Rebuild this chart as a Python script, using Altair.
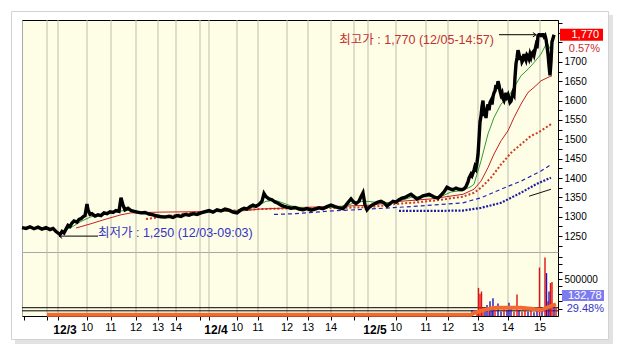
import altair as alt
import pandas as pd

# ---------------- data (x = tick sequence index, 21..557) ----------------
X_MIN, X_MAX = 21, 557
P_MIN, P_MAX = 1209, 1808
V_MAX = 865000

grid_x = [46, 57, 86, 110, 135, 157, 175, 199, 208, 236, 257, 286, 307, 330,
          353, 367, 395, 425, 447, 477, 507, 539]
label_x = [57, 86, 110, 135, 157, 175, 208, 236, 257, 286, 307, 330,
           367, 395, 425, 447, 477, 507, 539]
label_text = ["12/3", "10", "11", "12", "13", "14", "12/4", "10", "11", "12", "13", "14",
              "12/5", "10", "11", "12", "13", "14", "15"]
label_kind = ["day", "h", "h", "h", "h", "h", "day", "h", "h", "h", "h", "h",
              "day", "h", "h", "h", "h", "h", "h"]

price_ticks = [1250, 1300, 1350, 1400, 1450, 1500, 1550, 1600, 1650, 1700]
price_minor = list(range(1225, 1801, 25))
vol_ticks = [100000, 200000, 300000, 400000, 500000, 600000, 700000, 800000]
vol_labels = [500000]

price_pts = [
    (21, 1272), (25, 1270), (29, 1274), (33, 1269), (37, 1273), (41, 1268), (45, 1272),
    (49, 1267), (52, 1270), (55, 1262), (57, 1258), (59, 1254), (61, 1262), (63, 1258),
    (65, 1268), (67, 1278), (69, 1275), (71, 1284), (73, 1289), (76, 1286), (78, 1293),
    (80, 1295), (82, 1300), (84, 1303), (86, 1333), (87, 1318), (89, 1306), (91, 1308),
    (94, 1302), (97, 1305), (100, 1303), (103, 1310), (106, 1308), (109, 1313), (112, 1311),
    (115, 1316), (118, 1314), (120, 1349), (122, 1330), (124, 1318), (127, 1322), (130, 1316),
    (133, 1314), (136, 1312), (140, 1310), (144, 1311), (148, 1307), (152, 1305), (156, 1302),
    (160, 1300), (164, 1299), (168, 1301), (172, 1298), (176, 1303), (180, 1301), (184, 1306),
    (188, 1304), (192, 1308), (196, 1306), (200, 1310), (204, 1313), (208, 1316), (212, 1312),
    (216, 1318), (220, 1315), (224, 1320), (228, 1317), (232, 1312), (236, 1310), (240, 1318),
    (243, 1322), (246, 1320), (249, 1326), (252, 1330), (255, 1327), (258, 1332), (261, 1340),
    (263, 1360), (265, 1352), (268, 1346), (271, 1344), (274, 1338), (277, 1335), (280, 1330),
    (283, 1327), (286, 1325), (290, 1322), (294, 1324), (298, 1320), (302, 1318), (306, 1321),
    (310, 1317), (314, 1320), (318, 1323), (322, 1321), (326, 1326), (330, 1330), (334, 1326),
    (338, 1323), (342, 1321), (345, 1330), (348, 1340), (350, 1346), (352, 1340), (355, 1334),
    (358, 1340), (360, 1352), (362, 1362), (364, 1330), (366, 1318), (368, 1324), (371, 1330),
    (374, 1334), (377, 1338), (380, 1340), (383, 1336), (386, 1328), (389, 1334), (392, 1340),
    (395, 1338), (398, 1344), (401, 1348), (404, 1350), (407, 1354), (410, 1358), (413, 1352),
    (416, 1346), (419, 1350), (422, 1354), (425, 1356), (428, 1358), (431, 1354), (434, 1350),
    (437, 1348), (440, 1356), (443, 1364), (446, 1376), (449, 1372), (452, 1370), (455, 1374),
    (458, 1371), (461, 1370), (463, 1372), (465, 1378), (467, 1390), (468, 1400), (470, 1410),
    (471, 1406), (473, 1420), (474, 1430), (475, 1425), (476, 1440), (477, 1460), (478, 1500),
    (479, 1545), (480, 1560), (481, 1585), (482, 1600), (483, 1560), (484, 1575), (485, 1555),
    (486, 1580), (487, 1590), (488, 1575), (489, 1595), (490, 1600), (491, 1590), (492, 1610),
    (493, 1620), (494, 1625), (495, 1640), (496, 1630), (497, 1650), (498, 1640), (499, 1625),
    (500, 1615), (501, 1620), (502, 1605), (503, 1600), (504, 1610), (505, 1620), (506, 1610),
    (507, 1615), (508, 1605), (509, 1595), (510, 1598), (511, 1610), (512, 1620), (513, 1615),
    (514, 1660), (515, 1695), (516, 1710), (517, 1730), (518, 1720), (519, 1705), (520, 1715),
    (521, 1700), (522, 1705), (523, 1720), (524, 1712), (525, 1705), (526, 1718), (527, 1715),
    (528, 1708), (529, 1720), (530, 1712), (531, 1722), (532, 1725), (533, 1718), (534, 1730),
    (535, 1742), (536, 1735), (537, 1768), (538, 1770), (539, 1770), (540, 1768), (541, 1770),
    (542, 1770), (543, 1765), (544, 1768), (545, 1758), (546, 1740), (547, 1720), (548, 1690),
    (549, 1665), (550, 1700), (551, 1752), (552, 1760), (553, 1770),
]

ma5_pts = [(60, 1262), (70, 1272), (80, 1288), (90, 1300), (100, 1304), (110, 1309), (120, 1315),
           (130, 1318), (140, 1313), (150, 1308), (160, 1303), (175, 1301), (190, 1304),
           (205, 1310), (220, 1315), (240, 1316), (255, 1325), (265, 1340), (275, 1342),
           (290, 1328), (310, 1320), (330, 1324), (345, 1328), (355, 1338), (365, 1340),
           (380, 1336), (395, 1338), (410, 1350), (425, 1352), (440, 1352), (450, 1364),
           (462, 1368), (470, 1378), (473, 1384), (480, 1444), (487, 1514), (493, 1556),
           (500, 1591), (507, 1608), (513, 1634), (520, 1664), (527, 1681), (533, 1698),
           (540, 1720), (546, 1750), (550, 1728)]
ma20_pts = [(75, 1271), (90, 1282), (105, 1294), (120, 1305), (130, 1310), (160, 1312),
            (195, 1313), (240, 1315), (260, 1320), (300, 1324), (340, 1327), (370, 1330),
            (400, 1340), (430, 1346), (462, 1358), (473, 1371), (480, 1392), (487, 1427),
            (493, 1462), (500, 1496), (507, 1522), (513, 1556), (520, 1591), (527, 1621),
            (533, 1634), (540, 1651), (548, 1661), (551, 1664)]
ma60_pts = [(145, 1294), (153, 1297), (195, 1312), (230, 1316), (260, 1320), (300, 1322),
            (340, 1323), (370, 1325), (390, 1332), (420, 1338), (440, 1344), (462, 1352),
            (473, 1362), (480, 1375), (490, 1401), (500, 1435), (510, 1465), (520, 1487),
            (530, 1509), (537, 1517), (550, 1539)]
ma120_pts = [(273, 1306), (295, 1308), (330, 1315), (370, 1320), (420, 1328), (462, 1336),
             (480, 1349), (500, 1371), (520, 1392), (540, 1418), (550, 1435)]
ma240_pts = [(398, 1315), (430, 1315), (462, 1316), (480, 1323), (500, 1336), (520, 1362),
             (535, 1384), (550, 1401)]
ma480_pts = [(528, 1353), (550, 1371)]

vol_bars = [
    (471, 80000, "down"), (476, 60000, "up"), (477.5, 380000, "up"), (479, 300000, "up"),
    (480.5, 330000, "up"), (482, 120000, "up"), (484, 90000, "down"), (486, 150000, "down"),
    (488, 60000, "up"), (489, 200000, "down"), (491, 100000, "down"), (492, 240000, "down"),
    (494, 80000, "up"), (497, 170000, "down"), (500, 60000, "down"), (503, 90000, "up"),
    (506, 70000, "down"), (508, 180000, "down"), (510, 100000, "down"), (513, 60000, "up"),
    (516, 290000, "up"), (518, 80000, "down"), (521, 60000, "up"), (524, 120000, "up"),
    (527, 60000, "down"), (530, 90000, "up"), (533, 50000, "down"), (536, 80000, "down"),
    (538.5, 655000, "up"), (541, 120000, "down"), (544, 790000, "up"), (545.5, 580000, "down"),
    (547, 200000, "up"), (548, 330000, "down"), (549.5, 445000, "up"), (551, 460000, "up"),
    (553, 150000, "down"), (555, 120000, "up"),
]
vol_ma_pts = [(46, 17000), (470, 17000), (473, 40000), (485, 90000), (495, 112000),
              (520, 112000), (530, 98000), (540, 81000), (550, 135000), (555, 158000)]
vol_ref_levels = [112000, 70000]

hi_text = "최고가 : 1,770 (12/05-14:57)"
lo_text = "최저가 : 1,250 (12/03-09:03)"
hi_price, lo_price = 1770, 1250
hi_arrow_x = [498, 535]
lo_arrow_x = [97, 58]
last_price_text = "1,770"
last_change_text = "0.57%"
last_vol_text = "132,78"
vol_change_text = "29.48%"

# ---------------- chart ----------------
W, HP, HV = 536, 232, 64
BG = "#FEFEE6"
FONT = "Liberation Sans, Noto Sans CJK KR"

xs = alt.Scale(domain=[X_MIN, X_MAX], nice=False, zero=False)
ys = alt.Scale(domain=[P_MIN, P_MAX], nice=False, zero=False)
vs = alt.Scale(domain=[0, V_MAX], nice=False, zero=True)

X_top = alt.X("x:Q", scale=xs, axis=alt.Axis(orient="top", labels=False, ticks=False, grid=False,
                                              domainColor="black", title=None))
Y_price = alt.Y("p:Q", scale=ys, axis=alt.Axis(
    orient="right", values=price_minor, grid=False, title=None, domainColor="black",
    tickColor="black", tickSize=4, labelPadding=2, labelFontSize=10, labelFont=FONT,
    labelColor="black",
    labelExpr="indexof(%s, datum.value) >= 0 ? '' + datum.value : ''" % str(price_ticks)))

def pts_df(pts):
    return pd.DataFrame(pts, columns=["x", "p"])

grid_df = pd.DataFrame({"x": grid_x})
grid_p = alt.Chart(grid_df).mark_rule(color="#BDBDAD", strokeWidth=1).encode(x=X_top)

# outer panel frame with soft shadow (decoration)
frame_df = pd.DataFrame({"k": [0]})
frame = alt.Chart(frame_df).mark_rect(fill=None, fillOpacity=0, stroke="#D2D2D2", strokeWidth=1).encode(
    x=alt.value(-10.5), x2=alt.value(W + 50.5), y=alt.value(-8.5), y2=alt.value(HP + HV + 23.5))
shadow_r = alt.Chart(frame_df).mark_rule(color="#E2E2E2", strokeWidth=4).encode(
    x=alt.value(W + 53), y=alt.value(-5), y2=alt.value(HP + HV + 27))
shadow_b = alt.Chart(frame_df).mark_rule(color="#E2E2E2", strokeWidth=4).encode(
    x=alt.value(-7), x2=alt.value(W + 55), y=alt.value(HP + HV + 26))

ma_layers = []
for pts, style in [
    (ma480_pts, dict(color="#111111", strokeWidth=1)),
    (ma240_pts, dict(color="#1C1CA6", strokeWidth=2.2, strokeDash=[2, 1.5])),
    (ma120_pts, dict(color="#2525B5", strokeWidth=1.2, strokeDash=[4, 3])),
    (ma60_pts, dict(color="#D03A22", strokeWidth=2, strokeDash=[2, 2])),
    (ma20_pts, dict(color="#C42020", strokeWidth=1)),
    (ma5_pts, dict(color="#2E9E2E", strokeWidth=1)),
]:
    ma_layers.append(alt.Chart(pts_df(pts)).mark_line(**style).encode(x=X_top, y=Y_price))

price_line = alt.Chart(pts_df(price_pts)).mark_line(color="black", strokeWidth=3.4).encode(
    x=X_top, y=Y_price)

hi_arrow = alt.Chart(pd.DataFrame({"x": hi_arrow_x, "p": [hi_price] * 2})).mark_line(
    color="black", strokeWidth=1).encode(x=X_top, y=Y_price)
hi_head = alt.Chart(pd.DataFrame({"x": [hi_arrow_x[1]], "p": [hi_price]})).mark_point(
    shape="M-1,-0.7L0,0L-1,0.7", filled=False, color="black", strokeWidth=1, size=40,
    opacity=1).encode(x=X_top, y=Y_price)
lo_arrow = alt.Chart(pd.DataFrame({"x": lo_arrow_x, "p": [lo_price] * 2})).mark_line(
    color="black", strokeWidth=1).encode(x=X_top, y=Y_price)
lo_head = alt.Chart(pd.DataFrame({"x": [lo_arrow_x[1]], "p": [lo_price]})).mark_point(
    shape="M1,-0.7L0,0L1,0.7", filled=False, color="black", strokeWidth=1, size=40,
    opacity=1).encode(x=X_top, y=Y_price)

hi_label = alt.Chart(pd.DataFrame({"x": [hi_arrow_x[0] - 5], "p": [hi_price], "t": [hi_text]})).mark_text(
    align="right", baseline="middle", dy=5, fontSize=12.5, font=FONT, color="#C43030").encode(
    x=X_top, y=Y_price, text="t:N")
lo_label = alt.Chart(pd.DataFrame({"x": [lo_arrow_x[0]], "p": [lo_price], "t": [lo_text]})).mark_text(
    align="left", baseline="middle", dy=-3, fontSize=12.5, font=FONT, color="#3434C4").encode(
    x=X_top, y=Y_price, text="t:N")

last_box = alt.Chart(pd.DataFrame({"p": [hi_price]})).mark_rect(color="#FF0000").encode(
    x=alt.value(W + 2), x2=alt.value(W + 45), y=Y_price, y2=alt.Y2("p2:Q")
).transform_calculate(p2="datum.p + 15.5").transform_calculate(p="datum.p - 15.5")
last_txt = alt.Chart(pd.DataFrame({"p": [hi_price], "t": [last_price_text]})).mark_text(
    align="right", baseline="middle", fontSize=11, font=FONT, color="white").encode(
    x=alt.value(W + 41), y=Y_price, text="t:N")
chg_txt = alt.Chart(pd.DataFrame({"p": [hi_price], "t": [last_change_text]})).mark_text(
    align="right", baseline="middle", fontSize=11, font=FONT, color="#C43030", dy=14).encode(
    x=alt.value(W + 42), y=Y_price, text="t:N")

price_chart = alt.layer(
    frame, shadow_r, shadow_b,
    grid_p, *ma_layers, price_line, hi_arrow, hi_head, lo_arrow, lo_head, hi_label, lo_label,
    last_box, last_txt, chg_txt
).properties(width=W, height=HP)

# ----- volume panel -----
X_bot = alt.X("x:Q", scale=xs, axis=alt.Axis(orient="bottom", labels=False, values=grid_x + [23],
                                              ticks=True, tickSize=4, tickColor="black", grid=False,
                                              domainColor="black", title=None))
Y_vol = alt.Y("v:Q", scale=vs, axis=alt.Axis(
    orient="right", values=vol_ticks, grid=False, title=None, domainColor="black", tickColor="black",
    tickSize=4, labelPadding=2, labelFontSize=10, labelFont=FONT, labelColor="black",
    labelExpr="indexof(%s, datum.value) >= 0 ? '' + datum.value : ''" % str(vol_labels)))

grid_v = alt.Chart(grid_df).mark_rule(color="#BDBDAD", strokeWidth=1).encode(x=X_bot)
vb_df = pd.DataFrame(vol_bars, columns=["x", "v", "dir"])
bars = alt.Chart(vb_df).mark_rule(strokeWidth=1.4).encode(
    x=X_bot, y=Y_vol, y2=alt.datum(0),
    color=alt.Color("dir:N", scale=alt.Scale(domain=["up", "down"], range=["#E01010", "#2A10B8"]),
                    legend=None))
vref = alt.Chart(pd.DataFrame({"v": vol_ref_levels})).mark_rule(color="black", strokeWidth=1).encode(
    y=Y_vol)
vma = alt.Chart(pd.DataFrame(vol_ma_pts, columns=["x", "v"])).mark_line(
    color="#F26A2E", strokeWidth=4).encode(x=X_bot, y=Y_vol)

lab_df = pd.DataFrame({"x": label_x, "t": label_text, "k": label_kind})
hour_lab = alt.Chart(lab_df).transform_filter("datum.k == 'h'").mark_text(
    fontSize=11, font=FONT, color="black", baseline="middle").encode(
    x=X_bot, y=alt.value(HV + 12), text="t:N")
day_lab = alt.Chart(lab_df).transform_filter("datum.k == 'day'").mark_text(
    fontSize=12, fontWeight="bold", font=FONT, color="black", baseline="middle", dx=7).encode(
    x=X_bot, y=alt.value(HV + 14), text="t:N")

vbox = alt.Chart(pd.DataFrame({"t": [last_vol_text]})).mark_rect(color="#7C7CF0").encode(
    x=alt.value(W + 4), x2=alt.value(W + 46), y=alt.value(38), y2=alt.value(49))
vbox_txt = alt.Chart(pd.DataFrame({"t": [last_vol_text]})).mark_text(
    align="left", baseline="middle", fontSize=11, font=FONT, color="white").encode(
    x=alt.value(W + 10), y=alt.value(44), text="t:N")
vchg_txt = alt.Chart(pd.DataFrame({"t": [vol_change_text]})).mark_text(
    align="right", baseline="middle", fontSize=11, font=FONT, color="#3434C4").encode(
    x=alt.value(W + 46), y=alt.value(57), text="t:N")

vol_chart = alt.layer(
    grid_v, vref, bars, vma, hour_lab, day_lab, vbox, vbox_txt, vchg_txt
).properties(width=W, height=HV)

chart = alt.vconcat(price_chart, vol_chart, spacing=0, bounds="flush").configure(
    padding={"left": 10, "top": 10, "right": 0, "bottom": 0},
    background="white",
).configure_view(fill=BG, stroke="#A8A8A8", strokeWidth=1)

chart.save("out.html", embed_options={"renderer": "svg", "actions": False})
